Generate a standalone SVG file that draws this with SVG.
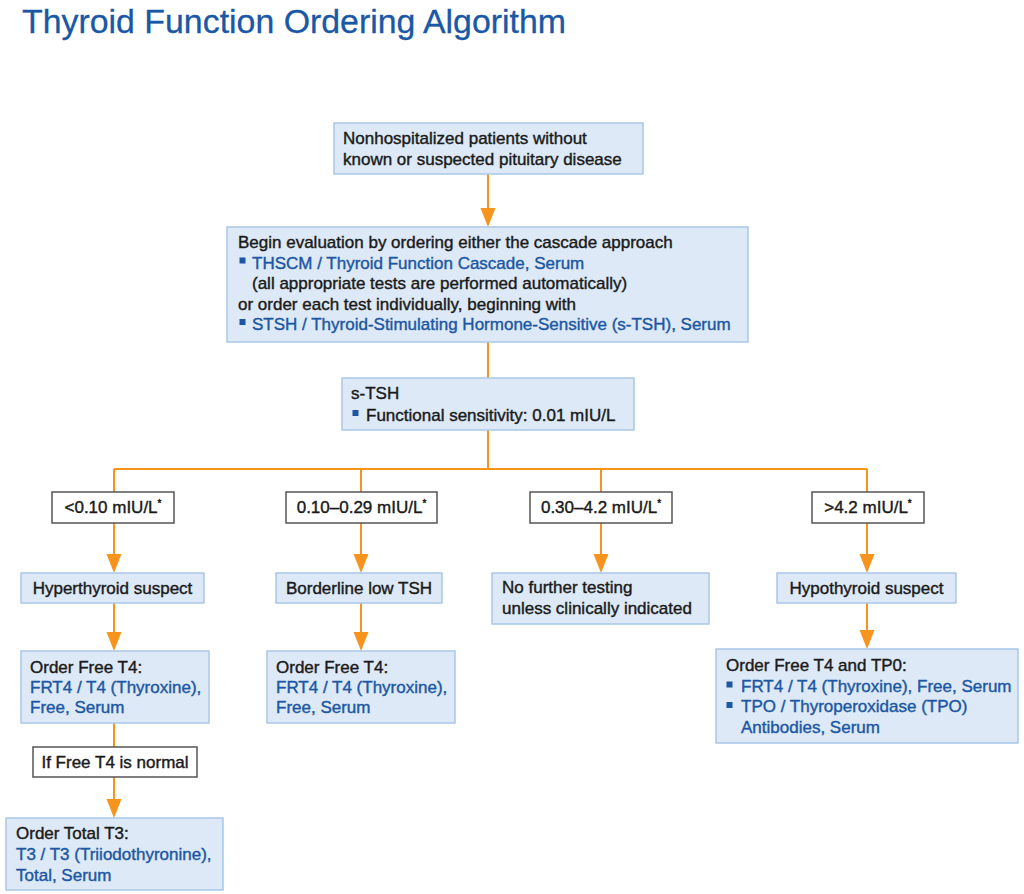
<svg xmlns="http://www.w3.org/2000/svg" width="1024" height="894" viewBox="0 0 1024 894">
<defs>
<style>
.t{font-family:"Liberation Sans",Arial,Helvetica,sans-serif;font-size:17px;fill:#1a1a1a;stroke:#1a1a1a;stroke-width:0.4}
.b{fill:#1c57a3;stroke:#1c57a3}
.box{fill:#dde9f6;stroke:#a9c7e7;stroke-width:1.5}
.rng{fill:#ffffff;stroke:#555555;stroke-width:1.5}
.sq{fill:#1c57a3}
.c{fill:none;stroke:#f7941d;stroke-width:2}
.m{text-anchor:middle}
.sup{font-size:10px}
</style>
<marker id="ah" markerUnits="userSpaceOnUse" markerWidth="20" markerHeight="16" viewBox="0 -8 20 16" refX="16" refY="0" orient="auto">
<path d="M0,-7.5 L19,0 L0,7.5 Z" fill="#f7941d"/>
</marker>
</defs>
<rect width="1024" height="894" fill="#ffffff"/>
<text x="22" y="33" font-family="Liberation Sans,Arial,sans-serif" font-size="33" fill="#1a58a6" stroke="#1a58a6" stroke-width="0.3" textLength="544" lengthAdjust="spacingAndGlyphs">Thyroid Function Ordering Algorithm</text>

<g id="connectors">
<line class="c" x1="488" y1="174" x2="488" y2="224" marker-end="url(#ah)"/>
<line class="c" x1="488" y1="342" x2="488" y2="378"/>
<line class="c" x1="488" y1="430" x2="488" y2="469"/>
<line class="c" x1="114" y1="469" x2="867" y2="469"/>
<line class="c" x1="114" y1="469" x2="114" y2="492"/>
<line class="c" x1="361" y1="469" x2="361" y2="492"/>
<line class="c" x1="601" y1="469" x2="601" y2="492"/>
<line class="c" x1="867" y1="469" x2="867" y2="492"/>
<line class="c" x1="114" y1="523" x2="114" y2="570" marker-end="url(#ah)"/>
<line class="c" x1="361" y1="523" x2="361" y2="570" marker-end="url(#ah)"/>
<line class="c" x1="601" y1="523" x2="601" y2="570" marker-end="url(#ah)"/>
<line class="c" x1="867" y1="523" x2="867" y2="570" marker-end="url(#ah)"/>
<line class="c" x1="114" y1="603" x2="114" y2="648" marker-end="url(#ah)"/>
<line class="c" x1="361" y1="603" x2="361" y2="648" marker-end="url(#ah)"/>
<line class="c" x1="867" y1="603" x2="867" y2="646" marker-end="url(#ah)"/>
<line class="c" x1="114" y1="723" x2="114" y2="747"/>
<line class="c" x1="114" y1="777" x2="114" y2="815" marker-end="url(#ah)"/>
</g>

<g id="start">
<rect class="box" x="334" y="123" width="309" height="51"/>
<text class="t" x="343" y="144">Nonhospitalized patients without</text>
<text class="t" x="343" y="165">known or suspected pituitary disease</text>
</g>

<g id="begin">
<rect class="box" x="227" y="227" width="521" height="115"/>
<text class="t" x="238" y="248">Begin evaluation by ordering either the cascade approach</text>
<rect class="sq" x="239.5" y="257.5" width="6" height="6"/>
<text class="t b" x="252" y="268.5">THSCM / Thyroid Function Cascade, Serum</text>
<text class="t" x="252" y="289">(all appropriate tests are performed automatically)</text>
<text class="t" x="238" y="309.5">or order each test individually, beginning with</text>
<rect class="sq" x="239.5" y="319" width="6" height="6"/>
<text class="t b" x="252" y="330">STSH / Thyroid-Stimulating Hormone-Sensitive (s-TSH), Serum</text>
</g>

<g id="stsh">
<rect class="box" x="342" y="378" width="292" height="52"/>
<text class="t" x="351" y="399">s-TSH</text>
<rect class="sq" x="352.5" y="410" width="6" height="6"/>
<text class="t" x="366" y="420.5">Functional sensitivity: 0.01 mIU/L</text>
</g>

<g id="range1">
<rect class="rng" x="52" y="492" width="122" height="31"/>
<text class="t m" x="113" y="513">&lt;0.10 mIU/L<tspan class="sup" dy="-6">*</tspan></text>
</g>
<g id="range2">
<rect class="rng" x="286" y="492" width="151" height="31"/>
<text class="t m" x="361.5" y="513">0.10–0.29 mIU/L<tspan class="sup" dy="-6">*</tspan></text>
</g>
<g id="range3">
<rect class="rng" x="530" y="492" width="142" height="31"/>
<text class="t m" x="601" y="513">0.30–4.2 mIU/L<tspan class="sup" dy="-6">*</tspan></text>
</g>
<g id="range4">
<rect class="rng" x="812" y="492" width="112" height="31"/>
<text class="t m" x="868" y="513">&gt;4.2 mIU/L<tspan class="sup" dy="-6">*</tspan></text>
</g>

<g id="hyper">
<rect class="box" x="21" y="573" width="183" height="30"/>
<text class="t m" x="112.5" y="594">Hyperthyroid suspect</text>
</g>
<g id="borderline">
<rect class="box" x="276" y="573" width="166" height="30"/>
<text class="t m" x="359" y="594">Borderline low TSH</text>
</g>
<g id="nofurther">
<rect class="box" x="492" y="573" width="217" height="51"/>
<text class="t" x="502" y="593">No further testing</text>
<text class="t" x="502" y="614">unless clinically indicated</text>
</g>
<g id="hypo">
<rect class="box" x="777" y="573" width="179" height="30"/>
<text class="t m" x="866.5" y="594">Hypothyroid suspect</text>
</g>

<g id="freeT4-hyper">
<rect class="box" x="21" y="651" width="188" height="72"/>
<text class="t" x="30" y="673">Order Free T4:</text>
<text class="t b" x="30" y="693">FRT4 / T4 (Thyroxine),</text>
<text class="t b" x="30" y="713">Free, Serum</text>
</g>
<g id="freeT4-border">
<rect class="box" x="267" y="651" width="188" height="72"/>
<text class="t" x="276" y="673">Order Free T4:</text>
<text class="t b" x="276" y="693">FRT4 / T4 (Thyroxine),</text>
<text class="t b" x="276" y="713">Free, Serum</text>
</g>
<g id="freeT4-tpo">
<rect class="box" x="716" y="649" width="302" height="94"/>
<text class="t" x="726" y="671">Order Free T4 and TP0:</text>
<rect class="sq" x="726.5" y="681.5" width="6" height="6"/>
<text class="t b" x="741" y="691.5">FRT4 / T4 (Thyroxine), Free, Serum</text>
<rect class="sq" x="726.5" y="702" width="6" height="6"/>
<text class="t b" x="741" y="712">TPO / Thyroperoxidase (TPO)</text>
<text class="t b" x="741" y="732.5">Antibodies, Serum</text>
</g>

<g id="ifnormal">
<rect class="rng" x="33" y="747" width="164" height="30"/>
<text class="t m" x="115" y="768">If Free T4 is normal</text>
</g>
<g id="totalT3">
<rect class="box" x="6" y="818" width="217" height="72"/>
<text class="t" x="16" y="839">Order Total T3:</text>
<text class="t b" x="16" y="860">T3 / T3 (Triiodothyronine),</text>
<text class="t b" x="16" y="880.5">Total, Serum</text>
</g>
</svg>
